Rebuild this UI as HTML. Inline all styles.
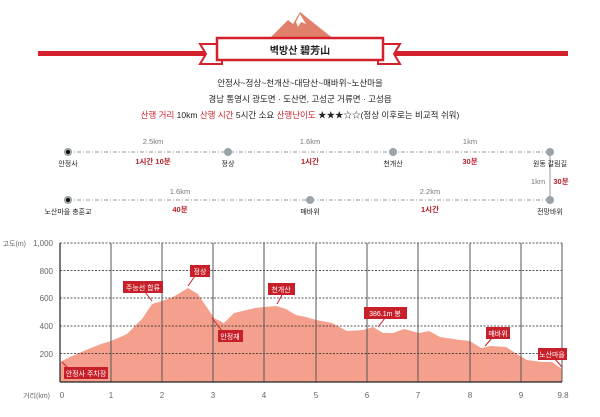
<!DOCTYPE html>
<html><head><meta charset="utf-8"><style>
body{margin:0;background:#fff;width:600px;height:412px;overflow:hidden;font-family:"Liberation Sans","Noto Sans CJK KR",sans-serif}
svg text{font-family:"Liberation Sans","Noto Sans CJK KR",sans-serif}
</style></head><body>
<svg width="600" height="412" viewBox="0 0 600 412" xmlns="http://www.w3.org/2000/svg">
<!-- mountain -->
<polygon points="268,40 288,20 293,24 300,12 335,40" fill="#e0806a"/>
<polygon points="296,22 300,14 306,24 301,22 298,27" fill="#fff"/>
<!-- red line and banner -->
<rect x="38" y="51" width="172" height="5" fill="#d4202a"/>
<rect x="390" y="51" width="178" height="5" fill="#d4202a"/>
<polygon points="200,44 222,44 222,64 200,64 206,54" fill="#fff" stroke="#d4202a" stroke-width="2"/>
<polygon points="400,44 378,44 378,64 400,64 394,54" fill="#fff" stroke="#d4202a" stroke-width="2"/>
<rect x="217" y="38" width="166" height="22" fill="#fff" stroke="#d4202a" stroke-width="2.5"/>
<text x="300" y="54" font-size="10" text-anchor="middle" font-weight="bold" fill="#222">벽방산 碧芳山</text>
<text x="300" y="86" font-size="8.5" text-anchor="middle" fill="#222">안정사~정상~천개산~대당산~매바위~노산마을</text>
<text x="300" y="102" font-size="8.5" text-anchor="middle" fill="#222">경남 통영시 광도면 · 도산면, 고성군 거류면 · 고성읍</text>
<text x="300" y="118" font-size="8.5" text-anchor="middle" fill="#222"><tspan fill="#c8202a">산행 거리</tspan> 10km  <tspan fill="#c8202a">산행 시간</tspan> 5시간 소요  <tspan fill="#c8202a">산행난이도</tspan> ★★★☆☆(정상 이후로는 비교적 쉬워)</text>
<!-- route -->
<g stroke="#999" stroke-width="1" stroke-dasharray="4,2,1,2">
<line x1="68" y1="152" x2="550" y2="152"/>
<line x1="68" y1="200" x2="550" y2="200"/>
</g>
<line x1="550" y1="152" x2="550" y2="200" stroke="#999"/>
<g fill="#9aa3a8">
<circle cx="68" cy="152" r="4"/><circle cx="228" cy="152" r="4"/><circle cx="393" cy="152" r="4"/><circle cx="550" cy="152" r="4"/>
<circle cx="68" cy="200" r="4"/><circle cx="310" cy="200" r="4"/><circle cx="550" cy="200" r="4"/>
</g>
<circle cx="68" cy="152" r="2" fill="#111"/><circle cx="68" cy="200" r="2" fill="#111"/>
<g font-size="7" text-anchor="middle" fill="#222">
<text x="68" y="166">안정사</text><text x="228" y="166">정상</text><text x="393" y="166">천개산</text><text x="550" y="166">원동 갈림길</text>
<text x="68" y="214">노산마을 충훈교</text><text x="310" y="214">매바위</text><text x="550" y="214">전망바위</text>
</g>
<g font-size="7.5" text-anchor="middle" fill="#777">
<text x="153" y="144">2.5km</text><text x="310" y="144">1.6km</text><text x="470" y="144">1km</text>
<text x="180" y="194">1.6km</text><text x="430" y="194">2.2km</text><text x="538" y="184">1km</text>
</g>
<g font-size="7.5" text-anchor="middle" fill="#b5202a" font-weight="bold">
<text x="153" y="164">1시간 10분</text><text x="310" y="164">1시간</text><text x="470" y="164">30분</text>
<text x="180" y="212">40분</text><text x="430" y="212">1시간</text><text x="561" y="184">30분</text>
</g>
<!-- chart -->
<polygon fill="#f5a08c" points="60,362 70,357 86,350 101,344 111,341 127,334 142,319 152,304 162,301 173,297 188,288 198,294 214,318 224,323 234,313 255,308 265,307 276,306 286,309 296,315 306,317 316,320 332,323 347,331 363,330 373,327 383,333 393,333 404,329 419,333 429,331 440,337 460,340 470,341 481,348 491,346 506,347 517,354 527,360 542,362 552,362 562,369 562,382 60,382"/>
<g stroke="#222" stroke-width="0.8" stroke-dasharray="2,1.5">
<line x1="60" y1="243" x2="562" y2="243"/><line x1="60" y1="270.5" x2="562" y2="270.5"/>
<line x1="60" y1="298" x2="562" y2="298"/><line x1="60" y1="326" x2="562" y2="326"/><line x1="60" y1="353.5" x2="562" y2="353.5"/>
</g>
<g stroke="#555" stroke-width="1">
<line x1="111" y1="243" x2="111" y2="382"/><line x1="162" y1="243" x2="162" y2="382"/><line x1="213" y1="243" x2="213" y2="382"/>
<line x1="264" y1="243" x2="264" y2="382"/><line x1="316" y1="243" x2="316" y2="382"/><line x1="367" y1="243" x2="367" y2="382"/>
<line x1="418" y1="243" x2="418" y2="382"/><line x1="470" y1="243" x2="470" y2="382"/><line x1="521" y1="243" x2="521" y2="382"/>
<line x1="562" y1="243" x2="562" y2="382"/>
</g>
<line x1="60" y1="243" x2="60" y2="382" stroke="#222" stroke-width="1.2"/>
<line x1="60" y1="382" x2="562" y2="382" stroke="#222" stroke-width="1.2"/>
<g font-size="8" fill="#666" text-anchor="end">
<text x="53" y="246">1,000</text><text x="53" y="274">800</text><text x="53" y="301">600</text><text x="53" y="329">400</text><text x="53" y="357">200</text>
<text x="26" y="246" font-size="7">고도(m)</text>
<text x="50" y="398" font-size="7">거리(km)</text>
</g>
<g font-size="8" fill="#666" text-anchor="middle">
<text x="62" y="398">0</text><text x="111" y="398">1</text><text x="162" y="398">2</text><text x="213" y="398">3</text><text x="264" y="398">4</text>
<text x="316" y="398">5</text><text x="367" y="398">6</text><text x="418" y="398">7</text><text x="470" y="398">8</text><text x="521" y="398">9</text><text x="563" y="398">9.8</text>
</g>
<!-- callouts -->
<g stroke="#c8202a" stroke-width="1">
<line x1="62" y1="362" x2="70" y2="370"/><line x1="152" y1="301" x2="145" y2="292"/><line x1="188" y1="286" x2="195" y2="276"/>
<line x1="212" y1="318" x2="222" y2="331"/><line x1="277" y1="304" x2="282" y2="295"/><line x1="378" y1="327" x2="385" y2="318"/>
<line x1="485" y1="346" x2="492" y2="338"/><line x1="562" y1="367" x2="555" y2="359"/>
</g>
<g fill="#c8202a">
<rect x="64" y="367" width="44" height="12"/><rect x="123" y="281" width="40" height="12"/><rect x="190" y="265" width="20" height="12"/>
<rect x="218" y="330" width="25" height="12"/><rect x="268" y="283" width="27" height="12"/><rect x="364" y="307" width="43" height="12"/>
<rect x="486" y="327" width="24" height="12"/><rect x="538" y="348" width="29" height="12"/>
</g>
<g font-size="7" fill="#fff" text-anchor="middle">
<text x="86" y="376">안정사 주차장</text><text x="143" y="290">주능선 합류</text><text x="200" y="274">정상</text>
<text x="230" y="339">안정재</text><text x="281" y="292">천개산</text><text x="385" y="316">386.1m 봉</text>
<text x="498" y="336">매바위</text><text x="552" y="357">노산마을</text>
</g>
</svg>
</body></html>
